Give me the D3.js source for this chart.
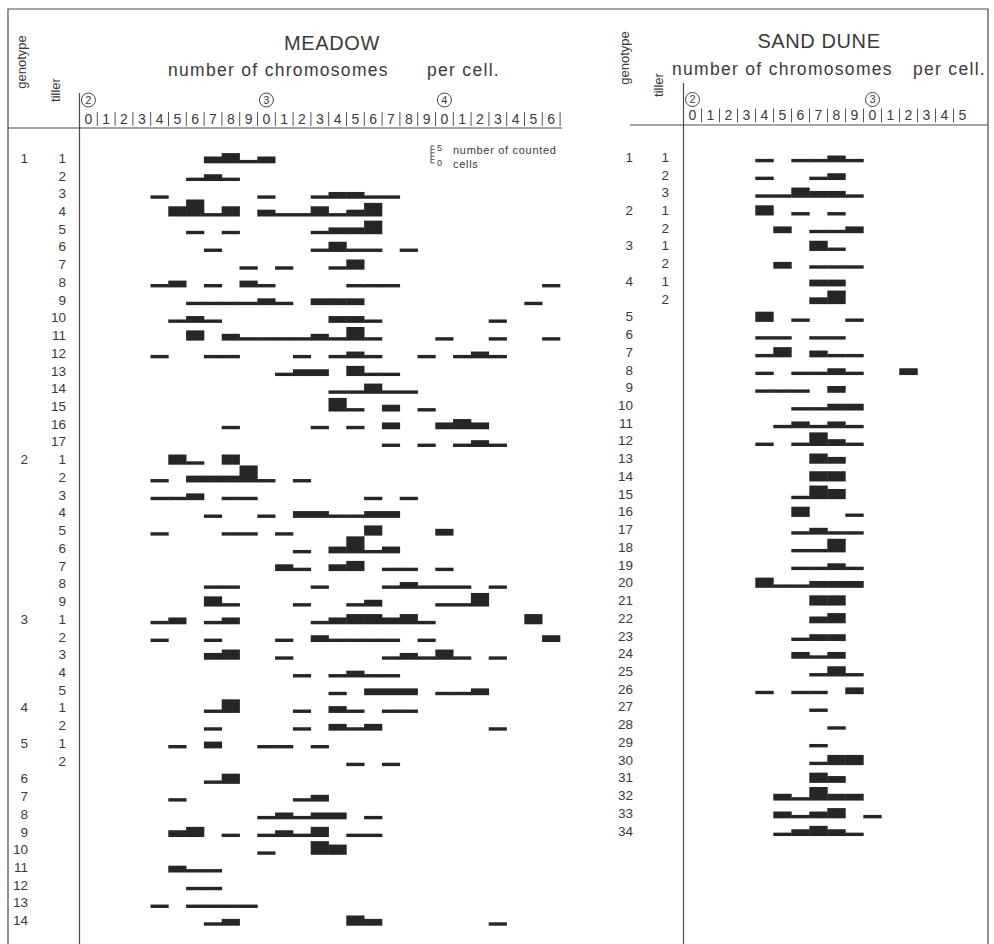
<!DOCTYPE html>
<html>
<head>
<meta charset="utf-8">
<script src="https://d3js.org/d3.v7.min.js"></script>
<style>
body { margin: 0; background: #fff; }
text { font-family: "Liberation Sans", Arial, sans-serif; fill: #3a3a3a; }
.rule { stroke: #4a4a4a; stroke-width: 1.2; fill: none; }
.sep { stroke: #555; stroke-width: 1; }
.cell { fill: #262626; }
.ring { fill: none; stroke: #444; stroke-width: 1; }
</style>
</head>
<body>
<div id="plot"></div>
<script>

// row labels, one entry per tiller (or per plant when there is no tiller number)
var meadowGenotype = ["1","","","","","","","","","","","","","","","","",
  "2","","","","","","","","",
  "3","","","","",
  "4","",
  "5","",
  "6","7","8","9","10","11","12","13","14"];
var meadowTiller = ["1","2","3","4","5","6","7","8","9","10","11","12","13","14","15","16","17",
  "1","2","3","4","5","6","7","8","9",
  "1","2","3","4","5",
  "1","2",
  "1","2",
  "","","","","","","","",""];

// [number of chromosomes, number of counted cells] for each row
var meadowCells = [
  [[27,2],[28,3],[29,1],[30,2]],
  [[26,1],[27,2],[28,1]],
  [[24,1],[30,1],[33,1],[34,2],[35,2],[36,1],[37,1]],
  [[25,3],[26,5],[27,1],[28,3],[30,2],[31,1],[32,1],[33,3],[34,1],[35,2],[36,4]],
  [[26,1],[28,1],[33,1],[34,2],[35,2],[36,4]],
  [[27,1],[33,1],[34,3],[35,1],[36,1],[38,1]],
  [[29,1],[31,1],[34,1],[35,3]],
  [[24,1],[25,2],[27,1],[29,2],[30,1],[35,1],[36,1],[37,1],[46,1]],
  [[26,1],[27,1],[28,1],[29,1],[30,2],[31,1],[33,2],[34,2],[35,2],[45,1]],
  [[25,1],[26,2],[27,1],[34,2],[35,2],[36,1],[43,1]],
  [[26,3],[28,2],[29,1],[30,1],[31,1],[32,1],[33,2],[34,1],[35,4],[36,1],[40,1],[43,1],[46,1]],
  [[24,1],[27,1],[28,1],[32,1],[34,1],[35,2],[36,1],[39,1],[41,1],[42,2],[43,1]],
  [[31,1],[32,2],[33,2],[35,3],[36,1],[37,1]],
  [[34,1],[35,1],[36,3],[37,1],[38,1]],
  [[34,4],[35,1],[37,2],[39,1]],
  [[28,1],[33,1],[35,1],[37,2],[40,2],[41,3],[42,2]],
  [[37,1],[39,1],[41,1],[42,2],[43,1]],
  [[25,3],[26,1],[28,3]],
  [[24,1],[26,2],[27,2],[28,2],[29,5],[30,1],[32,1]],
  [[24,1],[25,1],[26,2],[28,1],[29,1],[36,1],[38,1]],
  [[27,1],[30,1],[32,2],[33,2],[34,1],[35,1],[36,2],[37,2]],
  [[24,1],[28,1],[29,1],[31,1],[36,3],[40,2]],
  [[32,1],[34,2],[35,5],[36,1],[37,2]],
  [[31,2],[32,1],[34,2],[35,3],[37,1],[38,1],[40,1]],
  [[27,1],[28,1],[33,1],[37,1],[38,2],[39,1],[40,1],[41,1],[43,1]],
  [[27,3],[28,1],[32,1],[35,1],[36,2],[40,1],[41,1],[42,4]],
  [[24,1],[25,2],[27,1],[28,2],[33,1],[34,2],[35,3],[36,3],[37,2],[38,3],[39,1],[45,3]],
  [[24,1],[27,1],[31,1],[33,2],[34,1],[35,1],[36,1],[37,1],[39,1],[46,2]],
  [[27,2],[28,3],[31,1],[37,1],[38,2],[39,1],[40,3],[41,1],[43,1]],
  [[32,1],[34,1],[35,2],[36,1],[37,1]],
  [[34,1],[36,2],[37,2],[38,2],[40,1],[41,1],[42,2]],
  [[27,1],[28,4],[32,1],[34,2],[35,1],[37,1],[38,1]],
  [[27,1],[32,1],[34,2],[35,1],[36,2],[43,1]],
  [[25,1],[27,2],[30,1],[31,1],[33,1]],
  [[35,1],[37,1]],
  [[27,1],[28,3]],
  [[25,1],[32,1],[33,2]],
  [[30,1],[31,2],[32,1],[33,2],[34,2],[36,1]],
  [[25,2],[26,3],[28,1],[30,1],[31,2],[32,1],[33,3],[35,1],[36,1]],
  [[30,1],[33,4],[34,3]],
  [[25,2],[26,1],[27,1]],
  [[26,1],[27,1]],
  [[24,1],[26,1],[27,1],[28,1],[29,1]],
  [[27,1],[28,2],[35,3],[36,2],[43,1]]
];

var duneGenotype = ["1","","","2","","3","","4","",
  "5","6","7","8","9","10","11","12","13","14","15","16","17","18","19",
  "20","21","22","23","24","25","26","27","28","29","30","31","32","33","34"];
var duneTiller = ["1","2","3","1","2","1","2","1","2",
  "","","","","","","","","","","","","","","","","","","","","","","","","","","","","",""];

var duneCells = [
  [[24,1],[26,1],[27,1],[28,2],[29,1]],
  [[24,1],[27,1],[28,2]],
  [[24,1],[25,1],[26,3],[27,2],[28,2],[29,1]],
  [[24,3],[26,1],[28,1]],
  [[25,2],[27,1],[28,1],[29,2]],
  [[27,3],[28,1]],
  [[25,2],[27,1],[28,1],[29,1]],
  [[27,2],[28,2]],
  [[27,2],[28,4]],
  [[24,3],[26,1],[29,1]],
  [[24,1],[25,1],[27,1],[28,1]],
  [[24,1],[25,3],[27,2],[28,1],[29,1]],
  [[24,1],[26,1],[27,1],[28,2],[29,1],[32,2]],
  [[24,1],[25,1],[26,1],[28,2]],
  [[26,1],[27,1],[28,2],[29,2]],
  [[25,1],[26,2],[27,1],[28,2],[29,1]],
  [[24,1],[26,1],[27,4],[28,2],[29,1]],
  [[27,3],[28,2]],
  [[27,3],[28,3]],
  [[26,1],[27,4],[28,3]],
  [[26,3],[29,1]],
  [[26,1],[27,2],[28,1],[29,1]],
  [[26,1],[27,1],[28,4]],
  [[26,1],[27,1],[28,2],[29,1]],
  [[24,3],[25,1],[26,1],[27,2],[28,2],[29,2]],
  [[27,3],[28,3]],
  [[27,2],[28,3]],
  [[26,1],[27,2],[28,2]],
  [[26,2],[27,1],[28,2]],
  [[27,1],[28,3],[29,1]],
  [[24,1],[26,1],[27,1],[29,2]],
  [[27,1]],
  [[28,1]],
  [[27,1]],
  [[27,1],[28,3],[29,3]],
  [[27,3],[28,2]],
  [[25,2],[26,1],[27,4],[28,2],[29,2]],
  [[25,2],[26,1],[27,2],[28,3],[30,1]],
  [[25,1],[26,2],[27,3],[28,2],[29,1]]
];

var meadowRange = [20, 46];
var duneRange = [20, 35];
var decades = [20, 30, 40];          // circled tens above the unit digits
var maxCells = 5;

var svg = d3.select("#plot").append("svg")
  .attr("width", 994)
  .attr("height", 944);

// outer frame (open at the bottom)
svg.append("path")
  .attr("class", "rule")
  .attr("d", "M8,944 L8,9 L988,9 L988,944");

var cellH = d3.scaleLinear().domain([0, maxCells]).range([0, 17]);

function drawPanel(p){
  var g = svg.append("g");

  var x = d3.scaleBand()
    .domain(d3.range(p.range[0], p.range[1] + 1))
    .range([p.left, p.left + (p.range[1] - p.range[0] + 1) * p.colW])
    .padding(0);

  var y = d3.scaleLinear()
    .domain([0, p.genotype.length - 1])
    .range([p.firstRow, p.firstRow + (p.genotype.length - 1) * 17.73]);

  // header rule and vertical axis
  g.append("line").attr("class", "rule")
    .attr("x1", p.ruleX[0]).attr("x2", p.ruleX[1])
    .attr("y1", p.ruleY).attr("y2", p.ruleY);

  g.append("line").attr("class", "rule")
    .attr("x1", p.left).attr("x2", p.left)
    .attr("y1", p.axisTop).attr("y2", 944);

  // titles
  g.append("text")
    .attr("x", p.titleX).attr("y", p.titleY)
    .attr("text-anchor", "middle")
    .style("font-size", "20px")
    .style("letter-spacing", "0.6px")
    .text(p.title);

  g.append("text")
    .attr("x", p.subX).attr("y", p.subY)
    .style("font-size", "17.5px")
    .style("letter-spacing", "1.3px")
    .text("number of chromosomes");

  g.append("text")
    .attr("x", p.perX).attr("y", p.subY)
    .style("font-size", "17.5px")
    .style("letter-spacing", "1.3px")
    .text("per cell.");

  // rotated column heads
  g.append("text")
    .attr("transform", "translate(" + p.genoHeadX + "," + p.genoHeadY + ") rotate(-90)")
    .attr("text-anchor", "middle")
    .style("font-size", "13px")
    .text("genotype");

  g.append("text")
    .attr("transform", "translate(" + p.tillerHeadX + "," + p.tillerHeadY + ") rotate(-90)")
    .attr("text-anchor", "middle")
    .style("font-size", "13px")
    .text("tiller");

  // unit digits of the chromosome number
  var axis = d3.axisBottom(x)
    .tickSize(0)
    .tickPadding(0)
    .tickFormat(function(d){ return d % 10; });

  var ax = g.append("g")
    .attr("transform", "translate(0," + (p.digitY - 11) + ")")
    .call(axis);
  ax.select(".domain").remove();
  ax.selectAll("text")
    .attr("dy", "0.71em")
    .style("font-size", "14px")
    .style("font-family", "'Liberation Sans', Arial, sans-serif")
    .style("fill", "#3a3a3a");

  // little separators between digits
  var seps = d3.range(p.range[0] + 1, p.range[1] + (p.trailingSep ? 2 : 1));
  g.selectAll(".sep")
    .data(seps)
    .enter().append("line")
    .attr("class", "sep")
    .attr("x1", function(d){ return p.left + (d - p.range[0]) * p.colW; })
    .attr("x2", function(d){ return p.left + (d - p.range[0]) * p.colW; })
    .attr("y1", p.digitY - 13)
    .attr("y2", p.digitY + 1);

  // circled tens
  var tens = g.selectAll(".tens")
    .data(decades.filter(function(d){ return d <= p.range[1]; }))
    .enter().append("g")
    .attr("transform", function(d){ return "translate(" + (x(d) + x.bandwidth() / 2) + "," + p.circleY + ")"; });
  tens.append("circle").attr("class", "ring").attr("r", 7);
  tens.append("text")
    .attr("text-anchor", "middle")
    .attr("dy", "0.36em")
    .style("font-size", "11px")
    .text(function(d){ return d / 10; });

  // row labels
  g.selectAll(".geno")
    .data(p.genotype)
    .enter().append("text")
    .attr("x", p.genoX)
    .attr("y", function(d, i){ return y(i) - 0.5; })
    .attr("text-anchor", "end")
    .style("font-size", "13.5px")
    .text(function(d){ return d; });

  g.selectAll(".till")
    .data(p.tiller)
    .enter().append("text")
    .attr("x", p.tillerX)
    .attr("y", function(d, i){ return y(i) - 0.5; })
    .attr("text-anchor", "end")
    .style("font-size", "13.5px")
    .text(function(d){ return d; });

  // bars: height grows with the number of counted cells
  var rows = g.selectAll(".row")
    .data(p.cells)
    .enter().append("g")
    .attr("class", "row")
    .attr("transform", function(d, i){ return "translate(0," + y(i) + ")"; });

  rows.selectAll("rect")
    .data(function(d){ return d; })
    .enter().append("rect")
    .attr("class", "cell")
    .attr("x", function(d){ return x(d[0]) - 0.2; })
    .attr("width", x.bandwidth() + 0.4)
    .attr("y", function(d){ return -cellH(d[1]); })
    .attr("height", function(d){ return cellH(d[1]); });

  return x;
}

drawPanel({
  title: "MEADOW", titleX: 332, titleY: 50,
  subX: 168, perX: 427, subY: 76,
  range: meadowRange, left: 79.5, colW: 17.8,
  ruleX: [8, 562], ruleY: 128, axisTop: 93,
  digitY: 125, circleY: 100, trailingSep: true,
  genoHeadX: 26, genoHeadY: 62, tillerHeadX: 60, tillerHeadY: 90,
  genoX: 28, tillerX: 66,
  firstRow: 163.3,
  genotype: meadowGenotype, tiller: meadowTiller, cells: meadowCells
});

drawPanel({
  title: "SAND DUNE", titleX: 819, titleY: 48,
  subX: 672, perX: 913, subY: 75,
  range: duneRange, left: 683.5, colW: 18,
  ruleX: [630, 988], ruleY: 125, axisTop: 83,
  digitY: 121.5, circleY: 99.5, trailingSep: false,
  genoHeadX: 629, genoHeadY: 58, tillerHeadX: 663, tillerHeadY: 85,
  genoX: 633, tillerX: 669,
  firstRow: 162.3,
  genotype: duneGenotype, tiller: duneTiller, cells: duneCells
});

// legend for bar thickness in the meadow panel
var legend = svg.append("g").attr("transform", "translate(431,163)");
legend.append("line").attr("class", "sep")
  .attr("x1", 0).attr("x2", 0)
  .attr("y1", 0).attr("y2", -cellH(maxCells));
legend.selectAll(".tick")
  .data(d3.range(0, maxCells + 1))
  .enter().append("line").attr("class", "sep")
  .attr("x1", 0).attr("x2", 3.5)
  .attr("y1", function(d){ return -cellH(d); })
  .attr("y2", function(d){ return -cellH(d); });
legend.append("text").attr("x", 6).attr("y", -12).style("font-size", "9px").text(maxCells);
legend.append("text").attr("x", 6).attr("y", 3).style("font-size", "9px").text("0");
legend.append("text").attr("x", 22).attr("y", -9).style("font-size", "11px").style("letter-spacing", "0.7px").text("number of counted");
legend.append("text").attr("x", 22).attr("y", 5).style("font-size", "11px").style("letter-spacing", "0.7px").text("cells");

</script>
</body>
</html>
